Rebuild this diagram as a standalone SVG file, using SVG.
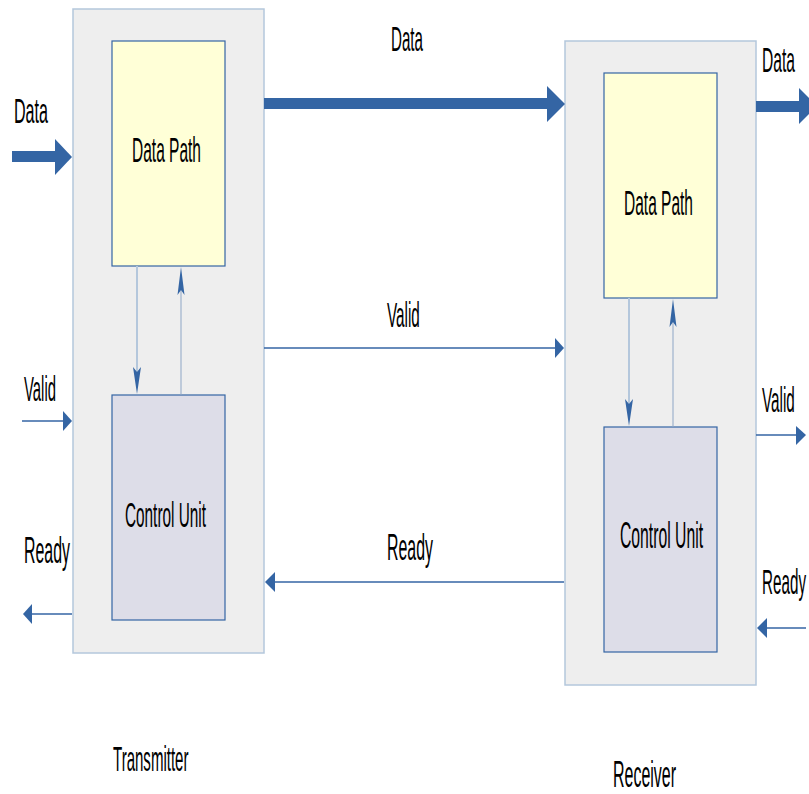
<svg xmlns="http://www.w3.org/2000/svg" width="809" height="794" viewBox="0 0 809 794">
<style>
.outer{fill:#eeeeee;stroke:#b4c7dc;stroke-width:1.5}
.dp{fill:#ffffd7;stroke:#3465a4;stroke-width:1.2}
.cu{fill:#dddde8;stroke:#3465a4;stroke-width:1.2}
.t{font-family:"Liberation Sans",Arial,sans-serif;font-size:36px;fill:#000}
.ah{fill:#3465a4;stroke:none}
.thin{stroke:#3465a4;stroke-width:1.5;fill:none}
.dn{stroke:#b4c7dc;stroke-width:2;fill:none}
.up{stroke:#8ea6c6;stroke-width:1;fill:none}
</style>
<rect width="809" height="794" fill="#ffffff"/>
<g id="transmitter">
<rect class="outer" x="73" y="9" width="191" height="644"/>
<text class="t" transform="translate(113,771) scale(0.418,1)">Transmitter</text>
</g>
<g id="tx-datapath">
<rect class="dp" x="112" y="41" width="113" height="225"/>
<text class="t" transform="translate(132,162) scale(0.431,1)">Data Path</text>
</g>
<g id="tx-control">
<rect class="cu" x="112" y="395" width="113" height="225"/>
<text class="t" transform="translate(125,527) scale(0.426,1)">Control Unit</text>
</g>
<g id="receiver">
<rect class="outer" x="565" y="41" width="191" height="644"/>
<text class="t" transform="translate(613,787) scale(0.444,1)">Receiver</text>
</g>
<g id="rx-datapath">
<rect class="dp" x="604" y="73" width="113" height="225"/>
<text class="t" transform="translate(624,215) scale(0.431,1)">Data Path</text>
</g>
<g id="rx-control">
<rect class="cu" x="604" y="427" width="113" height="225"/>
<text class="t" transform="translate(620,548) scale(0.437,1)">Control Unit</text>
</g>
<g id="connectors">
<rect class="ah" x="12" y="151" width="44" height="11"/>
<path class="ah" d="M55,139 L72,157 L55,175 Z"/>
<text class="t" transform="translate(14,123) scale(0.447,1)">Data</text>
<rect class="ah" x="264" y="98" width="284" height="11"/>
<path class="ah" d="M547,86 L565,104 L547,122 Z"/>
<text class="t" transform="translate(391,51) scale(0.421,1)">Data</text>
<rect class="ah" x="756" y="101" width="44" height="11"/>
<path class="ah" d="M799,88 L817,106 L799,124 Z"/>
<text class="t" transform="translate(762,72) scale(0.434,1)">Data</text>
<line class="thin" x1="22" y1="421" x2="64" y2="421"/>
<path class="ah" d="M63,411 L72,421 L63,431 Z"/>
<text class="t" transform="translate(24,401) scale(0.413,1)">Valid</text>
<line class="thin" x1="72" y1="614" x2="31" y2="614"/>
<path class="ah" d="M32,604 L23,614 L32,624 Z"/>
<text class="t" transform="translate(24,563) scale(0.442,1)">Ready</text>
<line class="thin" x1="264" y1="348" x2="556" y2="348"/>
<path class="ah" d="M555,338 L564,348 L555,358 Z"/>
<text class="t" transform="translate(387,327) scale(0.425,1)">Valid</text>
<line class="thin" x1="564" y1="582" x2="274" y2="582"/>
<path class="ah" d="M275,572 L265,582 L275,592 Z"/>
<text class="t" transform="translate(387,560) scale(0.442,1)">Ready</text>
<line class="thin" x1="756" y1="435" x2="797" y2="435"/>
<path class="ah" d="M796,426 L806,435 L796,445 Z"/>
<text class="t" transform="translate(762,412) scale(0.425,1)">Valid</text>
<line class="thin" x1="806" y1="628" x2="766" y2="628"/>
<path class="ah" d="M767,618 L757,628 L767,638 Z"/>
<text class="t" transform="translate(762,594) scale(0.423,1)">Ready</text>
<line class="dn" x1="137" y1="266" x2="137" y2="372"/>
<path class="ah" d="M137,394 L133,367 L137,372 L141,367 Z"/>
<line class="up" x1="181" y1="395" x2="181" y2="290"/>
<path class="ah" d="M181,267 L177.5,295 L181,290 L184.5,295 Z"/>
<line class="dn" x1="629" y1="298" x2="629" y2="404"/>
<path class="ah" d="M629,426 L625,399 L629,404 L633,399 Z"/>
<line class="up" x1="673" y1="427" x2="673" y2="322"/>
<path class="ah" d="M673,299 L669.5,327 L673,322 L676.5,327 Z"/>
</g>
</svg>
